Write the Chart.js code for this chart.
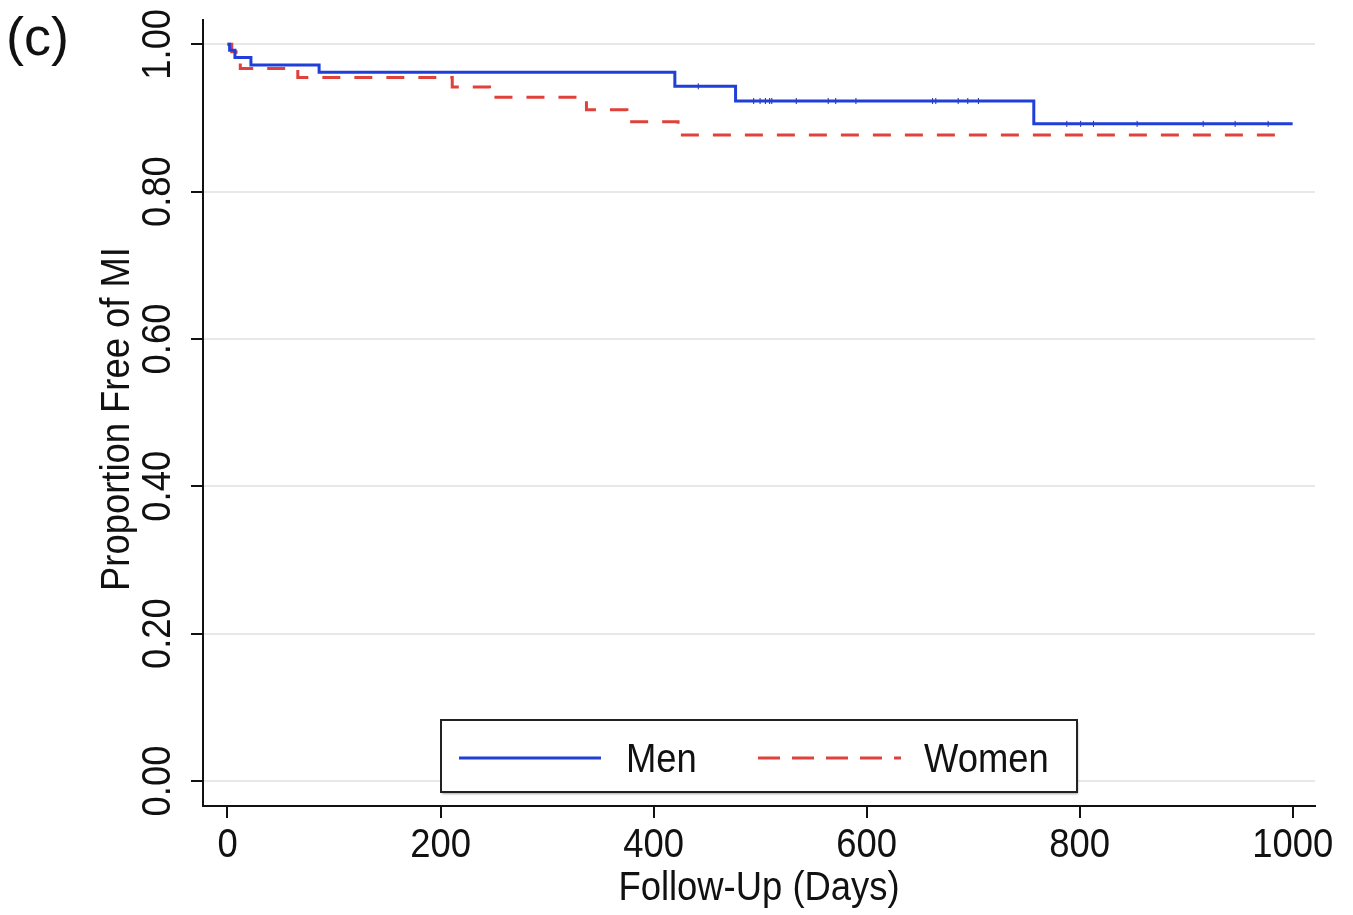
<!DOCTYPE html>
<html>
<head>
<meta charset="utf-8">
<script src="https://cdn.jsdelivr.net/npm/chart.js@4.4.1/dist/chart.umd.min.js"></script>
<style>
  html, body { margin: 0; padding: 0; background: #fff; }
</style>
</head>
<body>
<canvas id="kmChart" width="1353" height="915"></canvas>
<script>
// Kaplan-Meier curves
const menDays = [0, 2, 7, 22, 86, 420, 477, 757, 1000];
const menSurv = [1.0, 0.992, 0.982, 0.972, 0.962, 0.943, 0.923, 0.892, 0.892];
const womenDays = [0, 4, 8, 12, 66, 211, 246, 337, 375, 423, 993];
const womenSurv = [1.0, 0.99, 0.98, 0.967, 0.955, 0.942, 0.928, 0.911, 0.895, 0.877, 0.877];
// censored times on the men's curve (small ticks)
const menCensored = [442, 494, 500, 505, 509, 511, 534, 564, 571, 590, 662, 665, 686, 695, 705, 788, 801, 813, 854, 916, 946, 977];

const seriesNames = ['Men', 'Women'];
const xTitle = 'Follow-Up (Days)';
const yTitle = 'Proportion Free of MI';
const panelLetter = '(c)';

const FONT = '"Liberation Sans", Arial, sans-serif';
const SQUEEZE = 0.91; // the original type is a narrow Helvetica
const MEN_COLOR = '#1f3fd8';
const WOMEN_COLOR = '#e0413a';
const INK = '#111';

function survAt(days, surv, t) {
  let v = surv[0];
  for (let i = 0; i < days.length; i++) {
    if (days[i] <= t) v = surv[i];
  }
  return v;
}

const menData = menDays.map((d, i) => ({ x: d, y: menSurv[i] }));
const womenData = womenDays.map((d, i) => ({ x: d, y: womenSurv[i] }));
const censorData = menCensored.map(d => ({ x: d, y: survAt(menDays, menSurv, d) }));

function drawText(ctx, text, x, y, rot, align) {
  ctx.save();
  ctx.translate(x, y);
  ctx.rotate(rot);
  ctx.scale(SQUEEZE, 1);
  ctx.textAlign = align || 'center';
  ctx.textBaseline = 'middle';
  ctx.fillText(text, 0, 0);
  ctx.restore();
}

const extras = {
  id: 'extras',
  afterDraw(chart) {
    const ctx = chart.ctx;
    const xScale = chart.scales.x;
    const yScale = chart.scales.y;
    const area = chart.chartArea;
    ctx.save();

    // panel letter
    ctx.fillStyle = INK;
    ctx.font = '54px ' + FONT;
    ctx.textAlign = 'left';
    ctx.textBaseline = 'alphabetic';
    ctx.fillText(panelLetter, 6, 55);

    ctx.font = '40px ' + FONT;
    // vertical y tick labels
    yScale.ticks.forEach(t => {
      drawText(ctx, t.value.toFixed(2), area.left - 44, yScale.getPixelForValue(t.value), -Math.PI / 2);
    });
    // x tick labels
    xScale.ticks.forEach(t => {
      drawText(ctx, String(t.value), xScale.getPixelForValue(t.value), area.bottom + 40, 0);
    });
    // axis titles
    drawText(ctx, xTitle, (area.left + area.right) / 2, area.bottom + 83, 0);
    drawText(ctx, yTitle, 118, (area.top + area.bottom) / 2 + 6, -Math.PI / 2);

    // legend box
    const w = 636, h = 72;
    const bx = (area.left + area.right) / 2 - w / 2;
    const by = area.bottom - 14 - h;
    ctx.fillStyle = '#fff';
    ctx.shadowColor = 'rgba(0,0,0,0.35)';
    ctx.shadowOffsetX = 1;
    ctx.shadowOffsetY = 2;
    ctx.shadowBlur = 2;
    ctx.fillRect(bx, by, w, h);
    ctx.shadowColor = 'transparent';
    ctx.strokeStyle = '#222';
    ctx.lineWidth = 2;
    ctx.strokeRect(bx, by, w, h);

    const my = by + h / 2 + 2;
    ctx.lineWidth = 3;
    ctx.strokeStyle = MEN_COLOR;
    ctx.beginPath();
    ctx.moveTo(bx + 18, my);
    ctx.lineTo(bx + 160, my);
    ctx.stroke();
    ctx.strokeStyle = WOMEN_COLOR;
    ctx.setLineDash([22, 12]);
    ctx.beginPath();
    ctx.moveTo(bx + 317, my);
    ctx.lineTo(bx + 460, my);
    ctx.stroke();
    ctx.setLineDash([]);

    ctx.fillStyle = INK;
    drawText(ctx, seriesNames[0], bx + 185, my + 3, 0, 'left');
    drawText(ctx, seriesNames[1], bx + 483, my + 3, 0, 'left');
    ctx.restore();
  }
};

new Chart(document.getElementById('kmChart'), {
  type: 'line',
  data: {
    datasets: [
      {
        label: seriesNames[0],
        data: menData,
        borderColor: MEN_COLOR,
        borderWidth: 3,
        stepped: 'before',
        pointRadius: 0,
        fill: false
      },
      {
        label: seriesNames[1],
        data: womenData,
        borderColor: WOMEN_COLOR,
        borderWidth: 3,
        borderDash: [18, 14],
        stepped: 'before',
        pointRadius: 0,
        fill: false
      },
      {
        label: 'censored',
        data: censorData,
        showLine: false,
        pointStyle: 'line',
        rotation: 90,
        pointRadius: 3,
        borderColor: '#1a2a90',
        borderWidth: 1
      }
    ]
  },
  options: {
    responsive: false,
    animation: false,
    devicePixelRatio: 1,
    layout: { padding: { top: 20, right: 38, left: 0, bottom: 0 } },
    scales: {
      x: {
        type: 'linear',
        min: -23,
        max: 1021,
        afterFit: s => { s.height = 109; },
        ticks: {
          stepSize: 200,
          includeBounds: false,
          display: false
        },
        grid: {
          drawOnChartArea: false,
          tickLength: 12,
          tickColor: INK,
          lineWidth: 2
        },
        border: { color: INK, width: 2 }
      },
      y: {
        min: -0.034,
        max: 1.033,
        afterFit: s => { s.width = 203; },
        ticks: {
          stepSize: 0.2,
          includeBounds: false,
          display: false
        },
        grid: {
          color: '#e8e8e8',
          lineWidth: 2,
          tickLength: 12,
          tickColor: INK
        },
        border: { color: INK, width: 2 }
      }
    },
    plugins: {
      legend: { display: false },
      tooltip: { enabled: false }
    }
  },
  plugins: [extras]
});
</script>
</body>
</html>
